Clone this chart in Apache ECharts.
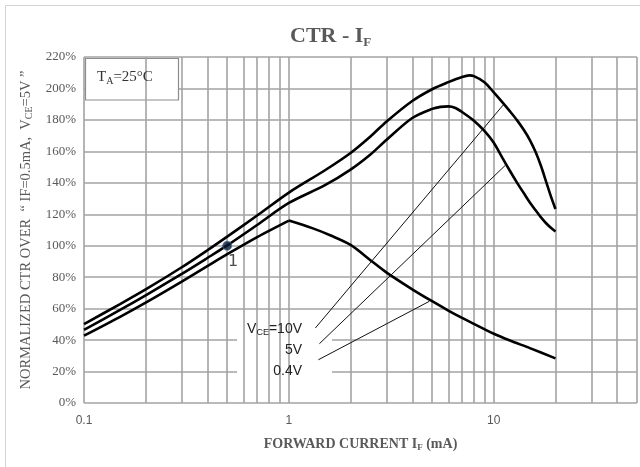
<!DOCTYPE html>
<html>
<head>
<meta charset="utf-8">
<script src="https://cdn.jsdelivr.net/npm/echarts@6/dist/echarts.min.js"></script>
<style>html,body{margin:0;padding:0;background:#fff}#c{width:640px;height:467px}</style>
</head>
<body>
<div id="c"></div>
<script>
// ---- data ----
const xTop = [0.1,0.15,0.2,0.3,0.4,0.5,0.7,1,1.5,2,2.5,3,4,5,6,7,7.6,8,9,10,11,12,13,14,15,16,17,18,19,20];
const yTop = [50.2,62.9,72.2,86.3,97.1,105.8,119.2,133.8,148,159,169.5,179,192,199.5,204,207.3,208.3,207.8,204,197.5,191.3,185.4,179.7,173.7,167.2,159.6,150.7,140.8,131.4,123.4];

const xMid = [0.1,0.15,0.2,0.3,0.4,0.5,0.7,1,1.5,2,2.5,3,4,5,5.5,6,6.5,7,8,9,10,11,12,13,14,15,16,17,18,19,20];
const yMid = [46.5,59.2,68.5,82.1,92.2,100.2,113.2,127.2,138.5,148.4,158,167.4,181.2,187,188.3,188.6,187.6,185,179.5,173,165.5,156,147.5,140,133.5,127.5,122.5,118,114.3,111.4,109.1];

const xBot = [0.1,0.15,0.2,0.3,0.4,0.5,0.7,1,1.3,1.6,2,2.5,3,4,5,6,7,8,10,12,15,20];
const yBot = [42.8,54.8,63.8,77.2,87,94.6,105.5,116,111.2,106.5,100.5,90.8,82.9,72.3,64.7,58.8,54.1,50.3,44,39.7,34.9,28.4];

// leader lines (start near label, end on curve)
const lead10 = [[1.347,47.7],[11.12,189.5]];
const lead5  = [[1.409,37.7],[11.38,151.1]];
const lead04 = [[1.393,27.5],[4.84,64.6]];

const refPoint = [0.5, 100];
const refLabel = '1';

const xGridValues = [0.1,0.2,0.3,0.4,0.5,0.6,0.7,0.8,0.9,1,2,3,4,5,6,7,8,9,10,20,30,40,50];
const xTickValues = [0.1,1,10];
const xTickLabels = ['0.1','1','10'];
const yMin = 0, yMax = 220, yStep = 20;

const vceLabels = ['V{sub|CE}=10V','5V','0.4V'];
// ---------------------------------------

function zip(xs, ys){ return xs.map((x,i)=>[x, ys[i]]); }
// split the 0.4V curve at its peak so the corner stays sharp
const botAll = zip(xBot, yBot);
const peakIdx = yBot.indexOf(Math.max.apply(null, yBot));
const botRise = botAll.slice(0, peakIdx + 1);
const botFall = botAll.slice(peakIdx);

const gray = '#595959';
const chart = echarts.init(document.getElementById('c'));
const curveStyle = {color:'#000', width:2.6};
const leadStyle = {color:'#111', width:1};

chart.setOption({
  animation:false,
  backgroundColor:'#fff',
  title:{
    text:'CTR - I{sub|F}',
    left:285, top:19,
    textStyle:{fontFamily:'Liberation Serif', fontWeight:'bold', fontSize:22, color:gray,
      rich:{sub:{fontFamily:'Liberation Serif', fontWeight:'bold', fontSize:13, color:gray, padding:[12,0,0,0]}}}
  },
  grid:{left:84, right:2, top:57, bottom:64},
  xAxis:{
    type:'log', logBase:10, min:0.1, max:50,
    axisLine:{show:false}, axisTick:{show:false}, splitLine:{show:false},
    axisLabel:{margin:12, fontFamily:'Liberation Sans', fontSize:12, color:gray,
      formatter:function(v){
        for(let i=0;i<xTickValues.length;i++){ if(Math.abs(v-xTickValues[i])<1e-6*xTickValues[i]) return xTickLabels[i]; }
        return '';
      }},
    name:'FORWARD CURRENT I{sub|F} (mA)',
    nameLocation:'middle', nameGap:33,
    nameTextStyle:{fontFamily:'Liberation Serif', fontWeight:'bold', fontSize:14, color:gray,
      rich:{sub:{fontFamily:'Liberation Serif', fontWeight:'bold', fontSize:9, color:gray, padding:[7,0,0,0]}}}
  },
  yAxis:{
    type:'value', min:yMin, max:yMax, interval:yStep,
    axisLine:{show:false}, axisTick:{show:false},
    splitLine:{lineStyle:{color:'#a3a3a3', width:1.6}},
    axisLabel:{margin:8, fontFamily:'Liberation Serif', fontSize:13, color:gray, formatter:'{value}%'},
    name:'NORMALIZED CTR OVER  \u201c IF=0.5mA,  V{sub|CE}=5V \u201d',
    nameLocation:'middle', nameRotate:90, nameGap:47,
    nameTextStyle:{fontFamily:'Liberation Serif', fontSize:14.5, color:gray,
      rich:{sub:{fontFamily:'Liberation Serif', fontSize:10, color:gray, padding:[7,0,0,0]}}}
  },
  graphic:[
    {type:'rect', z:0, shape:{x:5.5,y:5.5,width:700,height:700}, style:{fill:'none', stroke:'#d4d4d4', lineWidth:1}},
    {type:'rect', z:5, shape:{x:237,y:311,width:95,height:84}, style:{fill:'#fff'}},
    {type:'rect', z:5, shape:{x:85.5,y:58.5,width:93,height:41.5}, style:{fill:'#fff', stroke:'#8c8c8c', lineWidth:1.2}},
    {type:'text', z:6, style:{x:97, y:77, text:'T{sub|A}=25\u00b0C', verticalAlign:'middle', align:'left',
      font:'15px "Liberation Serif"', fill:'#333',
      rich:{sub:{fontFamily:'Liberation Serif', fontSize:10, fill:'#333', padding:[8,0,0,0]}}}},
    {type:'text', z:6, style:{x:302, y:329, text:vceLabels[0], align:'right', verticalAlign:'middle',
      font:'14px "Liberation Sans"', fill:'#222',
      rich:{sub:{fontFamily:'Liberation Sans', fontSize:9, fill:'#222', padding:[7,0,0,0]}}}},
    {type:'text', z:6, style:{x:302, y:350, text:vceLabels[1], align:'right', verticalAlign:'middle',
      font:'14px "Liberation Sans"', fill:'#222'}},
    {type:'text', z:6, style:{x:302, y:371, text:vceLabels[2], align:'right', verticalAlign:'middle',
      font:'14px "Liberation Sans"', fill:'#222'}}
  ],
  series:[
    {type:'line', z:1, data:[], silent:true,
      markLine:{silent:true, symbol:['none','none'], label:{show:false},
        lineStyle:{color:'#a3a3a3', width:1.6, type:'solid', opacity:1},
        data:xGridValues.map(v=>({xAxis:v}))}},
    {type:'line', z:10, data:zip(xTop,yTop), smooth:0.3, showSymbol:false, lineStyle:curveStyle},
    {type:'line', z:10, data:zip(xMid,yMid), smooth:0.3, showSymbol:false, lineStyle:curveStyle},
    {type:'line', z:10, data:botRise, smooth:0.3, showSymbol:false, lineStyle:curveStyle},
    {type:'line', z:10, data:botFall, smooth:0.3, showSymbol:false, lineStyle:curveStyle},
    {type:'line', z:10, data:lead10, showSymbol:false, lineStyle:leadStyle},
    {type:'line', z:10, data:lead5, showSymbol:false, lineStyle:leadStyle},
    {type:'line', z:10, data:lead04, showSymbol:false, lineStyle:leadStyle},
    {type:'scatter', z:11, data:[refPoint], symbolSize:9,
      itemStyle:{color:'#0b1b33', borderColor:'#4a6f98', borderWidth:1},
      label:{show:true, formatter:refLabel, position:'inside', offset:[6,16],
        fontFamily:'DejaVu Sans', fontSize:16, color:'#222'}}
  ]
});
</script>
</body>
</html>
